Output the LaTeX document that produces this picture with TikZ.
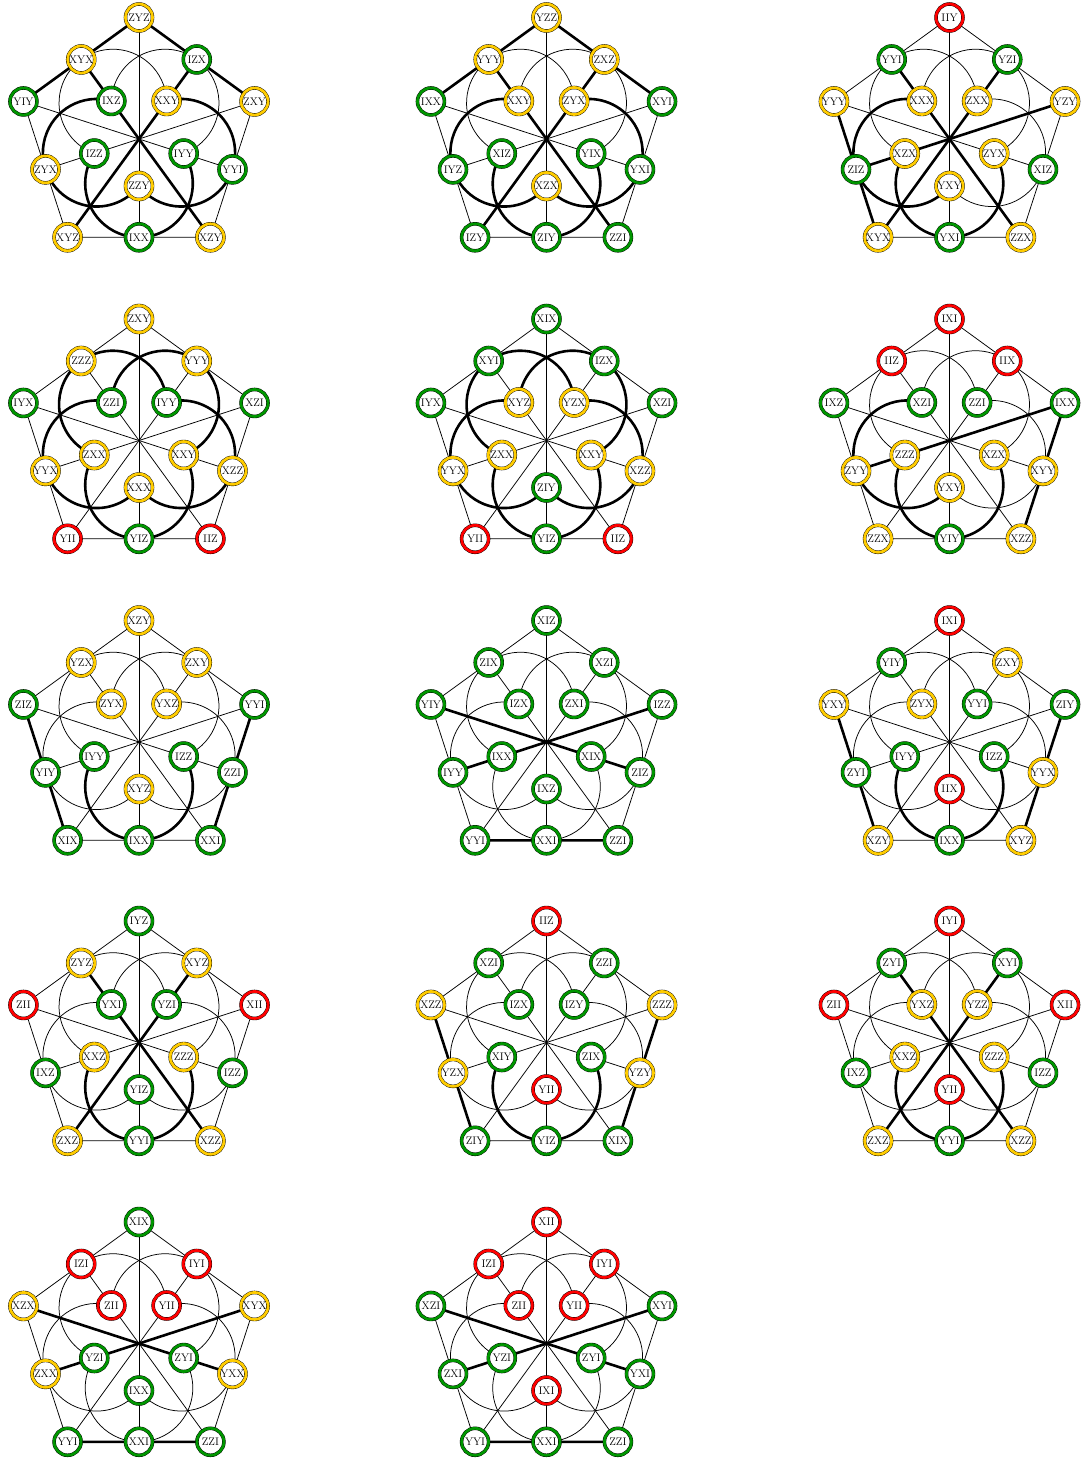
\documentclass[tikz,border=0pt]{standalone}
\usetikzlibrary{backgrounds}
\definecolor{coly}{RGB}{255,204,0}
\definecolor{colg}{RGB}{0,150,0}
\definecolor{colr}{RGB}{255,0,0}
\tikzset{
  pnode/.style={circle, fill=white, draw=black, line width=0.4pt,
    double distance=2.7pt, minimum size=27pt, inner sep=0pt,
    font=\fontsize{11}{13}\selectfont},
  nc/.style={double=col#1},
  thinln/.style={line width=0.75pt, black},
  thickln/.style={line width=2.6pt, black}
}
\newcommand\Lin[4]{%
  \pgfmathtruncatemacro\ka{mod(#3+1,5)}%
  \pgfmathtruncatemacro\kb{mod(#3+2,5)}%
  \if#2e\draw[#4] (#1v#3) -- (#1m#3) -- (#1v\ka);\fi
  \if#2d\draw[#4] (#1v#3) -- (#1i\kb) -- (#1m\kb);\fi
  \if#2c%
    \pgfmathsetmacro\dang{126+72*#3}%
    \pgfmathsetmacro\sang{\dang-123.83}%
    \pgfmathsetmacro\eang{\dang+123.83}%
    \draw[#4] (\dang:44.485) ++(\sang:53.811) arc[start angle=\sang, end angle=\eang, radius=53.811];%
  \fi
}
\newcommand\doily[5]{%
  \begin{scope}[shift={(#1,-#2)}]
    \foreach \k in {0,...,4}{%
      \pgfmathsetmacro\av{90+72*\k}%
      \pgfmathsetmacro\am{126+72*\k}%
      \coordinate (#3@v\k) at (\av:121.5);
      \coordinate (#3@m\k) at (\am:98.296);
      \coordinate (#3@i\k) at (\am:47);
    }
    \foreach \p/\lab/\col in {#4} \node[pnode, nc=\col] (#3\p) at (#3@\p) {\lab};
    \begin{pgfonlayer}{background}
      \foreach \ty in {e,d,c}{\foreach \k in {0,...,4}{\Lin{#3}{\ty}{\k}{thinln}}}
      \foreach \ty/\k in {#5}{\Lin{#3}{\ty}{\k}{thickln}}
    \end{pgfonlayer}
  \end{scope}}
\begin{document}
\begin{tikzpicture}[x=1pt,y=1pt]
\useasboundingbox (0,0) rectangle (1081,-1460);
\doily{139}{139}{Da}{v0/ZYZ/y, m0/XYX/y, v1/YIY/g, m1/ZYX/y, v2/XYZ/y, m2/IXX/g, v3/XZY/y, m3/YYI/g, v4/ZXY/y, m4/IZX/g, i0/IXZ/g, i1/IZZ/g, i2/ZZY/y, i3/IYY/g, i4/XXY/y}{e/0, e/4, d/3, d/2, c/1, c/3, c/2}
\doily{546.5}{139}{Db}{v0/YZZ/y, m0/YYY/y, v1/IXX/g, m1/IYZ/g, v2/IZY/g, m2/ZIY/g, v3/ZZI/g, m3/YXI/g, v4/XYI/g, m4/ZXZ/y, i0/XXY/y, i1/XIZ/g, i2/XZX/y, i3/YIX/g, i4/ZYX/y}{e/0, e/4, d/3, d/2, c/1, c/3, c/2}
\doily{949.5}{139}{Dc}{v0/IIY/r, m0/YYI/g, v1/YYY/y, m1/ZIZ/g, v2/XYX/y, m2/YXI/g, v3/ZZX/y, m3/XIZ/g, v4/YZY/y, m4/YZI/g, i0/XXX/y, i1/XZX/y, i2/YXY/y, i3/ZYX/y, i4/ZXX/y}{e/1, d/3, d/2, d/4, c/1, c/2}
\doily{139}{440.5}{Dd}{v0/ZXY/y, m0/ZZZ/y, v1/IYX/g, m1/YYX/y, v2/YII/r, m2/YIZ/g, v3/IIZ/r, m3/XZZ/y, v4/XZI/g, m4/YYY/y, i0/ZZI/g, i1/ZXX/y, i2/XXX/y, i3/XXY/y, i4/IYY/g}{c/0, c/1, c/2, c/3, c/4}
\doily{546.5}{440.5}{De}{v0/XIX/g, m0/XYI/g, v1/IYX/g, m1/YYX/y, v2/YII/r, m2/YIZ/g, v3/IIZ/r, m3/XZZ/y, v4/XZI/g, m4/IZX/g, i0/XYZ/y, i1/ZXX/y, i2/ZIY/g, i3/XXY/y, i4/YZX/y}{c/0, c/1, c/2, c/3, c/4}
\doily{949.5}{440.5}{Df}{v0/IXI/r, m0/IIZ/r, v1/IXZ/g, m1/ZYY/y, v2/ZZX/y, m2/YIY/g, v3/XZZ/y, m3/XYY/y, v4/IXX/g, m4/IIX/r, i0/XZI/g, i1/ZZZ/y, i2/YXY/y, i3/XZX/y, i4/ZZI/g}{e/3, d/4, c/1, c/2}
\doily{139}{742}{Dg}{v0/XZY/y, m0/YZX/y, v1/ZIZ/g, m1/YIY/g, v2/XIX/g, m2/IXX/g, v3/XXI/g, m3/ZZI/g, v4/YYI/g, m4/ZXY/y, i0/ZYX/y, i1/IYY/g, i2/XYZ/y, i3/IZZ/g, i4/YXZ/y}{e/1, e/3, c/2}
\doily{546.5}{742}{Dh}{v0/XIZ/g, m0/ZIX/g, v1/YIY/g, m1/IYY/g, v2/YYI/g, m2/XXI/g, v3/ZZI/g, m3/ZIZ/g, v4/IZZ/g, m4/XZI/g, i0/IZX/g, i1/IXX/g, i2/IXZ/g, i3/XIX/g, i4/ZXI/g}{e/2, d/1, d/4}
\doily{949.5}{742}{Di}{v0/IXI/r, m0/YIY/g, v1/YXY/y, m1/ZYI/g, v2/XZY/y, m2/IXX/g, v3/XYZ/y, m3/YYX/y, v4/ZIY/g, m4/ZXY/y, i0/ZYX/y, i1/IYY/g, i2/IIX/r, i3/IZZ/g, i4/YYI/g}{e/1, e/3, c/2}
\doily{139}{1042.5}{Dj}{v0/IYZ/g, m0/ZYZ/y, v1/ZII/r, m1/IXZ/g, v2/ZXZ/y, m2/YYI/g, v3/XZZ/y, m3/IZZ/g, v4/XII/r, m4/XYZ/y, i0/YXI/g, i1/XXZ/y, i2/YIZ/g, i3/ZZZ/y, i4/YZI/g}{d/3, d/2, c/2}
\doily{546.5}{1042.5}{Dk}{v0/IIZ/r, m0/XZI/g, v1/XZZ/y, m1/YZX/y, v2/ZIY/g, m2/YIZ/g, v3/XIX/g, m3/YZY/y, v4/ZZZ/y, m4/ZZI/g, i0/IZX/g, i1/XIY/g, i2/YII/r, i3/ZIX/g, i4/IZY/g}{e/1, e/3, c/2}
\doily{949.5}{1042.5}{Dl}{v0/IYI/r, m0/ZYI/g, v1/ZII/r, m1/IXZ/g, v2/ZXZ/y, m2/YYI/g, v3/XZZ/y, m3/IZZ/g, v4/XII/r, m4/XYI/g, i0/YXZ/y, i1/XXZ/y, i2/YII/r, i3/ZZZ/y, i4/YZZ/y}{d/3, d/2, c/2}
\doily{139}{1343.5}{Dm}{v0/XIX/g, m0/IZI/r, v1/XZX/y, m1/ZXX/y, v2/YYI/g, m2/XXI/g, v3/ZZI/g, m3/YXX/y, v4/XYX/y, m4/IYI/r, i0/ZII/r, i1/YZI/g, i2/IXX/g, i3/ZYI/g, i4/YII/r}{d/1, d/4, e/2}
\doily{546.5}{1343.5}{Dn}{v0/XII/r, m0/IZI/r, v1/XZI/g, m1/ZXI/g, v2/YYI/g, m2/XXI/g, v3/ZZI/g, m3/YXI/g, v4/XYI/g, m4/IYI/r, i0/ZII/r, i1/YZI/g, i2/IXI/r, i3/ZYI/g, i4/YII/r}{d/1, d/4, e/2}
\end{tikzpicture}
\end{document}
